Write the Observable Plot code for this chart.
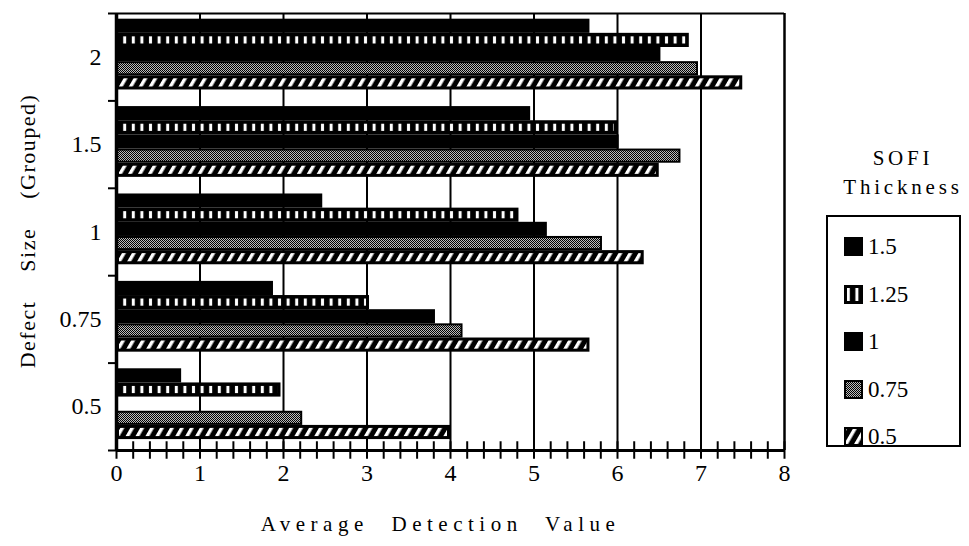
<!DOCTYPE html>
<html>
<head>
<meta charset="utf-8">
<script src="https://cdn.jsdelivr.net/npm/d3@7"></script>
<script src="https://cdn.jsdelivr.net/npm/@observablehq/plot@0.6"></script>
<style>
  html, body { margin: 0; padding: 0; background: white; }
  #wrap { position: relative; width: 969px; height: 546px; font-family: "Liberation Serif", serif; color: black; }
  #wrap svg text { font-family: "Liberation Serif", serif; }
  .xtitle text { letter-spacing: 5.5px; word-spacing: 12px; }
  .ytitle text { letter-spacing: 1.5px; word-spacing: 22px; }
  #legtitle { position: absolute; left: 828px; width: 150px; top: 144px; text-align: center; font-size: 21px; line-height: 29px; letter-spacing: 3.8px; }
  #legbox { position: absolute; left: 826px; top: 215px; width: 131px; height: 228px; border: 2px solid black; }
  .item { position: absolute; left: 16px; height: 20px; font-size: 23px; line-height: 20px; }
  .item svg { position: absolute; left: 0; top: 0; }
  .item span { position: absolute; left: 24px; top: 0; white-space: nowrap; }
</style>
</head>
<body>
<svg width="0" height="0" style="position:absolute">
  <defs>
    <pattern id="vstripes" patternUnits="userSpaceOnUse" width="8.6" height="10">
      <rect x="2.8" y="0" width="3" height="10" fill="white"/>
    </pattern>
    <pattern id="hatch" patternUnits="userSpaceOnUse" width="8.6" height="10" patternTransform="rotate(30)">
      <rect x="0" y="0" width="3.4" height="10" fill="white"/>
    </pattern>
    <pattern id="dots" patternUnits="userSpaceOnUse" width="2" height="2">
      <rect x="0" y="0" width="2" height="2" fill="#bbb"/>
      <rect x="0" y="0" width="1" height="1" fill="black"/>
      <rect x="1" y="1" width="1" height="1" fill="black"/>
    </pattern>
  </defs>
</svg>
<div id="wrap"></div>
<script>
// Defect size groups, bottom to top
const groups = ["0.5", "0.75", "1", "1.5", "2"];
// SOFI thickness series, top to bottom inside each group
const series = ["1.5", "1.25", "1", "0.75", "0.5"];
// Average detection value per group (same order as groups)
const sofi150 = [0.78, 1.88, 2.47, 4.96, 5.67];
const sofi125 = [1.97, 3.03, 4.82, 6.0, 6.86];
const sofi100 = [0, 3.82, 5.16, 6.02, 6.52];
const sofi075 = [2.23, 4.15, 5.82, 6.76, 6.97];
const sofi050 = [4.0, 5.67, 6.32, 6.5, 7.5];
const xTicks = [0, 1, 2, 3, 4, 5, 6, 7, 8];
const xTitle = "Average Detection Value";
const yTitle = "Defect Size (Grouped)";
const legendTitle = ["SOFI", "Thickness"];

const valuesBySeries = [sofi150, sofi125, sofi100, sofi075, sofi050];
const GROUP_SPAN = 0.81, BAR = GROUP_SPAN / series.length;
const rows = [];
groups.forEach((g, gi) => {
  series.forEach((s, si) => {
    const v = valuesBySeries[si][gi];
    if (v > 0) rows.push({group: g, series: s, value: v,
      y2: gi + 0.03 + GROUP_SPAN / 2 - si * BAR, y1: gi + 0.03 + GROUP_SPAN / 2 - (si + 1) * BAR});
  });
});
const minor = d3.range(0, 8.001, 0.2);
const bounds = d3.range(-0.5, groups.length, 1);
const FONT = "Liberation Serif";

const chart = Plot.plot({
  width: 969, height: 546,
  marginLeft: 116, marginRight: 185, marginTop: 13, marginBottom: 96,
  x: {domain: [0, 8]},
  y: {domain: [-0.5, groups.length - 0.5]},
  style: {fontFamily: FONT, fontSize: "24px", color: "black", background: "white", overflow: "visible"},
  marks: [
    Plot.ruleX(d3.range(1, 8), {stroke: "black", strokeWidth: 2}),
    Plot.rect(rows, {x1: 0, x2: "value", y1: "y1", y2: "y2", fill: "black"}),
    Plot.rect(rows.filter(d => d.series === "1.25"), {x1: 0, x2: "value", y1: "y1", y2: "y2", fill: "url(#vstripes)", insetTop: 3.5, insetBottom: 3.5, insetLeft: 3, insetRight: 3}),
    Plot.rect(rows.filter(d => d.series === "0.75"), {x1: 0, x2: "value", y1: "y1", y2: "y2", fill: "url(#dots)", insetTop: 2, insetBottom: 2, insetLeft: 2, insetRight: 2}),
    Plot.rect(rows.filter(d => d.series === "0.5"), {x1: 0, x2: "value", y1: "y1", y2: "y2", fill: "url(#hatch)", insetTop: 3, insetBottom: 3, insetLeft: 3, insetRight: 3}),
    Plot.ruleY([groups.length - 0.5], {stroke: "black", strokeWidth: 2}),
    Plot.ruleX([8], {stroke: "black", strokeWidth: 2.5}),
    Plot.ruleX([0], {stroke: "black", strokeWidth: 3.5}),
    Plot.ruleY([-0.5], {stroke: "black", strokeWidth: 3}),
    Plot.ruleX(minor, {x: d => d, y1: -0.5 - 0.1, y2: -0.5 + 0.1, stroke: "black", strokeWidth: 2, clip: false}),
    Plot.axisX({ticks: xTicks, tickSize: 0, tickPadding: 13, label: null, tickFormat: d => String(d), fontSize: 24, fontFamily: FONT}),
    Plot.axisY({ticks: d3.range(groups.length), tickFormat: i => groups[i], tickSize: 0, tickPadding: 15, label: null, fontSize: 24, fontFamily: FONT}),
    Plot.axisY({ticks: bounds, tickFormat: () => "", tickSize: 8, strokeWidth: 2, label: null}),
    Plot.text([xTitle], {frameAnchor: "bottom", dy: 80, dx: -10, text: d => d, fontSize: 21, fontFamily: FONT, className: "xtitle"}),
    Plot.text([yTitle], {frameAnchor: "left", textAnchor: "middle", dx: -89, dy: -1, rotate: -90, text: d => d, fontSize: 22, fontFamily: FONT, className: "ytitle"})
  ]
});
const wrap = document.getElementById("wrap");
wrap.appendChild(chart);

// Legend
const lt = document.createElement("div");
lt.id = "legtitle";
lt.innerHTML = legendTitle.map(t => `<div>${t}</div>`).join("");
wrap.appendChild(lt);
const box = document.createElement("div");
box.id = "legbox";
wrap.appendChild(box);
const swatch = {
  "1.5": `<rect width="19" height="19" fill="black"/>`,
  "1.25": `<rect width="19" height="19" fill="black"/><rect x="3" y="3" width="13" height="13" fill="url(#vstripes)"/>`,
  "1": `<rect width="19" height="19" fill="black"/>`,
  "0.75": `<rect width="19" height="19" fill="black"/><rect x="2" y="2" width="15" height="15" fill="url(#dots)"/>`,
  "0.5": `<rect width="19" height="19" fill="black"/><rect x="2" y="2" width="15" height="15" fill="url(#hatch)"/>`
};
series.forEach((s, i) => {
  const it = document.createElement("div");
  it.className = "item";
  it.style.top = (20 + i * 47.5) + "px";
  it.innerHTML = `<svg width="19" height="19">${swatch[s]}</svg><span>${s}</span>`;
  box.appendChild(it);
});
</script>
</body>
</html>
